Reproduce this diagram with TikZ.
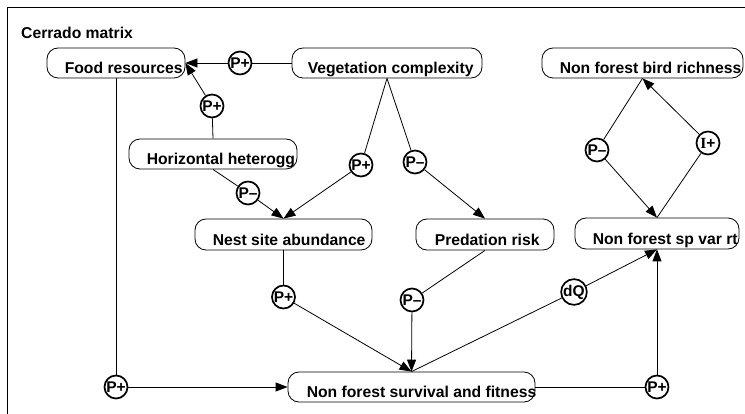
\documentclass[tikz,border=0pt]{standalone}
\usepackage{fontspec}
\setmainfont{Liberation Sans}
\newfontfamily\serifb{Liberation Serif}
\usetikzlibrary{arrows.meta,calc}
\tikzset{
  box/.style={draw, line width=0.8pt, rounded corners=11pt, inner sep=0pt},
  lbl/.style={font=\fontsize{15.7}{18}\selectfont\bfseries, inner sep=0pt, anchor=base west},
  qual/.style={draw, circle, line width=1.7pt, minimum size=23pt, inner sep=0pt, font=\fontsize{15.5}{18}\selectfont\bfseries},
  ln/.style={line width=0.8pt},
  arr/.style={ln, -{Triangle[length=12pt,width=9pt]}}
}
\begin{document}
\begin{tikzpicture}[x=1pt,y=-1pt]
\useasboundingbox (0,0) rectangle (745,414);
% frame
\draw[line width=1pt] (7,414) -- (7,8) -- (745,8);
\node[lbl] (title) at (21,39) {Cerrado matrix};
% boxes
\node[box, minimum width=138pt, minimum height=30pt] (food) at (116,63) {};
\node[box, minimum width=190pt, minimum height=30pt] (veg) at (387,63) {};
\node[box, minimum width=201pt, minimum height=30pt] (bird) at (642.5,63) {};
\node[box, minimum width=168pt, minimum height=30pt] (horiz) at (213,154) {};
\node[box, minimum width=177pt, minimum height=31pt] (nest) at (283.5,234.5) {};
\node[box, minimum width=138pt, minimum height=31pt] (pred) at (485,234.5) {};
\node[box, minimum width=164pt, minimum height=31pt] (spvar) at (657,233.5) {};
\node[box, minimum width=247pt, minimum height=30pt] (surv) at (411.5,387) {};
% labels
\node[lbl] (foodt) at ($(food.south west)+(18,-4.5)$) {Food resources};
\node[lbl] (vegt) at ($(veg.south west)+(16,-4.5)$) {Vegetation complexity};
\node[lbl] (birdt) at ($(bird.south west)+(18,-4.5)$) {Non forest bird richness};
\node[lbl] (horizt) at ($(horiz.south west)+(18,-4.5)$) {Horizontal heterogg};
\node[lbl] (nestt) at ($(nest.south west)+(18,-4.5)$) {Nest site abundance};
\node[lbl] (predt) at ($(pred.south west)+(19,-4.5)$) {Predation risk};
\node[lbl] (spvart) at ($(spvar.south west)+(18,-4.5)$) {Non forest sp var rt};
\node[lbl] (survt) at ($(surv.south west)+(19,-4.5)$) {Non forest survival and fitness};
% qualifiers
\node[qual] (q1) at (240,63) {P+};
\node[qual] (q2) at (212,106) {P+};
\node[qual] (q3) at (248,193) {P–};
\node[qual] (q4) at (361,165) {P+};
\node[qual] (q5) at (415,162) {P–};
\node[qual] (q6) at (283.5,297) {P+};
\node[qual] (q7) at (412,300) {P–};
\node[qual] (q8) at (574,292) {dQ};
\node[qual] (q9) at (116,387) {P+};
\node[qual] (q10) at (657,387) {P+};
\node[qual] (q11) at (597,150) {P–};
\node[qual] (q12) at (708,143) {{\serifb\bfseries I}+};
% connectors
\draw[ln] (veg.west) -- (q1); \draw[arr] (q1) -- (food.east);
\draw[ln] (horiz.north) -- (q2); \draw[arr] (q2) -- (food.east);
\draw[ln] (horiz.south) -- (q3); \draw[arr] (q3) -- (nest.north);
\draw[ln] (veg.south) -- (q4); \draw[arr] (q4) -- (nest.north);
\draw[ln] (veg.south) -- (q5); \draw[arr] (q5) -- (pred.north);
\draw[ln] (nest.south) -- (q6); \draw[arr] (q6) -- (surv.north);
\draw[ln] (pred.south) -- (q7); \draw[arr] (q7) -- (surv.north);
\draw[ln] (surv.north) -- (q8); \draw[arr] (q8) -- (spvar.south);
\draw[ln] (food.south) -- (q9); \draw[arr] (q9) -- (surv.west);
\draw[ln] (surv.east) -- (q10); \draw[arr] (q10) -- (spvar.south);
\draw[ln] (bird.south) -- (q11); \draw[arr] (q11) -- (spvar.north);
\draw[ln] (spvar.north) -- (q12); \draw[arr] (q12) -- (bird.south);
\end{tikzpicture}
\end{document}
